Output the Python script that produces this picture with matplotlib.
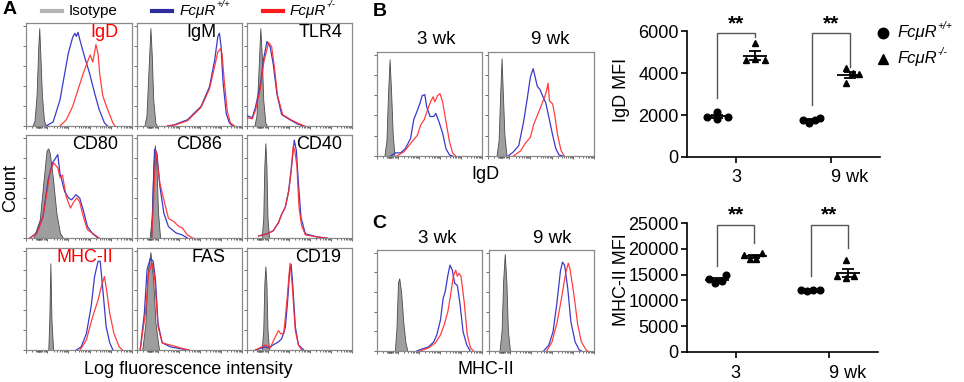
import numpy as np
import matplotlib.pyplot as plt
import matplotlib.transforms as mtransforms
from matplotlib.lines import Line2D

plt.rcParams['font.family'] = ['Liberation Sans', 'DejaVu Sans']

# ---------------- data ----------------
# flow histograms: (position along log axis in % of width, count in % of panel height)
igd_iso = [(6, 0), (8, 5), (10, 30), (11.5, 75), (12.5, 95), (13.5, 70), (15, 30), (17, 5), (19, 0)]
igd_wt = [(19, 0), (25.6, 4), (32, 25), (36.5, 51), (40, 71), (44, 86), (46, 90), (47.5, 87), (49, 91),
          (51, 83), (55, 68), (60, 51), (64.7, 32), (69, 16), (74, 3), (77, 0)]
igd_ko = [(32, 0), (38, 6), (44, 19), (49, 35), (54, 51), (57.5, 61), (60.6, 69), (63, 62), (66, 79),
          (68, 70), (69.5, 51), (72.5, 29), (77, 16), (82, 3), (84, 0)]

igm_iso = [(7, 0), (9, 10), (11, 55), (12.8, 95), (14, 70), (15.5, 25), (17.5, 3), (19, 0)]
igm_wt = [(29, 0), (35, 1), (48, 6), (61, 19), (69, 38), (74, 64), (77, 87), (78.5, 90), (80, 78),
          (82, 42), (85, 12), (88, 3), (91, 0)]
igm_ko = [(29, 0), (36, 1), (48, 5), (61, 18), (69, 36), (74, 58), (77, 72), (79.5, 75), (81, 70),
          (83, 45), (86, 14), (89, 3), (93, 0)]

tlr4_iso = [(7, 0), (9, 10), (11, 55), (12.7, 95), (14, 70), (15.5, 25), (17.5, 3), (19, 0)]
tlr4_wt = [(0, 10), (5, 8), (8, 18), (12.7, 40), (16, 66), (19, 82), (22, 77), (25, 60), (28.5, 31),
           (33, 11), (41, 6), (48, 2), (54, 0)]
tlr4_ko = [(0, 8), (5, 7), (8, 15), (12.7, 36), (16, 62), (20.6, 81), (23.5, 77), (26, 58), (29, 30),
           (34, 11), (42, 6), (50, 2), (55, 0)]

cd80_iso = [(7, 0), (13, 18), (16, 50), (19.4, 85), (21, 87), (22.5, 82), (25.6, 56), (28.7, 24),
            (32, 5), (35, 0)]
cd80_wt = [(3.7, 0), (10, 5), (16, 21), (21, 57), (25, 73), (27, 76), (30, 81), (32, 63), (36.5, 45),
           (40, 39), (43, 37), (47, 42), (50.6, 39), (54, 27), (58, 11), (63, 4), (68, 0)]
cd80_ko = [(3.7, 0), (10, 4), (16, 20), (22.5, 63), (26, 73), (30, 68), (32, 59), (34.4, 61), (38, 40),
           (42, 29), (45, 35), (48, 39), (50.6, 35), (54, 21), (58, 8), (65, 3), (69, 0)]

cd86_iso = [(12, 0), (14, 20), (15.5, 70), (17, 90), (18.5, 70), (20, 25), (22, 0)]
cd86_wt = [(14, 0), (16.7, 86), (19, 82), (21.8, 50), (25.6, 24), (30, 11), (37, 5), (43, 3), (48, 0)]
cd86_ko = [(14, 0), (18, 85), (21.8, 53), (27, 31), (30, 19), (35, 16), (40, 11), (43, 10), (48, 3), (53, 0)]

cd40_iso = [(14, 0), (15.5, 20), (16.5, 70), (17.5, 92), (18.5, 70), (19.5, 20), (21, 0)]
cd40_wt = [(11, 2), (19, 4), (25, 7), (30, 15), (33, 23), (36.5, 30), (39.7, 46), (42, 66), (44, 85),
           (45, 95), (47, 85), (49, 53), (51.4, 20), (55.6, 4), (67, 1), (76, 0)]
cd40_ko = [(11, 2), (19, 4), (25, 7), (30, 15), (33, 23), (36.5, 30), (39.7, 45), (42, 64), (44, 89),
           (45.5, 85), (47.5, 70), (49.5, 30), (52, 12), (55.6, 3), (67, 1), (76, 0)]

mhc_iso = [(21, 0), (22, 30), (23, 85), (24, 30), (25.6, 0)]
mhc_wt = [(47.5, 0), (52, 3), (57, 16), (61.5, 43), (64.7, 72), (68, 87), (70, 87), (72.5, 59),
          (75.6, 23), (79, 7), (82, 0)]
mhc_ko = [(51, 0), (57, 10), (63, 33), (68, 49), (71, 62), (74, 72), (76, 59), (79, 36), (83, 16),
          (88, 3), (91, 0)]

fas_iso = [(5, 0), (8, 26), (10, 75), (12.8, 96), (15.4, 69), (17.6, 26), (21, 0)]
fas_wt = [(3, 0), (7, 36), (9.6, 79), (12.8, 90), (15.4, 87), (17.6, 69), (20, 26), (24, 7), (32, 3),
          (43, 1), (48, 0)]
fas_ko = [(3, 0), (8, 36), (11, 75), (14.4, 85), (16.7, 72), (20, 23), (24, 7), (35, 4), (45, 1), (50, 0)]

cd19_iso = [(14, 0), (15.5, 20), (16.5, 65), (17.5, 82), (18.5, 65), (19.5, 20), (21, 0)]
cd19_wt = [(8, 0), (17.5, 3), (20.6, 2), (25, 5), (30, 8), (33, 11), (36.5, 22), (38.7, 48), (40.6, 77),
           (42, 84), (43.5, 65), (46, 23), (49, 5), (54, 0)]
cd19_ko = [(8, 0), (17.5, 5), (22, 2), (27, 13), (30, 19), (32, 16), (35, 16), (38, 48), (41, 85),
           (43, 65), (46, 19), (49, 5), (52, 0)]

igd3_iso = [(7, 0), (9, 15), (10.5, 60), (12, 93), (13.5, 60), (15, 20), (16.7, 0)]
igd3_wt = [(12.8, 0), (17.6, 3), (22.4, 3), (27, 7), (32, 17), (35, 35), (38.5, 44), (41, 51), (43, 58),
           (45.5, 59), (47.4, 47), (50.6, 38), (54, 38), (56, 41), (59, 33), (62.5, 22), (65.7, 7),
           (69, 1), (72, 0)]
igd3_ko = [(19, 0), (25.6, 4), (33.6, 14), (38.5, 20), (41.7, 30), (45, 35), (48.7, 46), (51, 52),
           (53.5, 57), (55, 52), (57.7, 58), (60, 60), (62.5, 52), (65.7, 33), (69, 14), (72, 3), (75, 0)]

igd9_iso = [(8, 0), (10, 15), (11.5, 60), (12.8, 94), (14, 60), (15.5, 20), (17.5, 0)]
igd9_wt = [(19, 0), (24, 4), (29, 10), (33.6, 33), (37, 55), (40, 76), (42.6, 84), (44, 78), (46.5, 67),
           (49, 64), (51, 59), (54.5, 51), (57.7, 36), (61, 20), (64, 7), (67, 1), (70.5, 0)]
igd9_ko = [(24, 0), (30.8, 5), (35, 12), (40, 18), (43, 30), (46.5, 39), (49.7, 47), (52, 53), (54.5, 60),
           (56.7, 70), (58, 53), (61, 50), (63, 39), (65.7, 20), (69, 5), (72, 0)]

mhc3_iso = [(17, 0), (18.5, 22), (20, 68), (21.2, 72), (23, 58), (25, 29), (27, 9), (29, 0)]
mhc3_wt = [(38, 0), (43, 2), (49, 4), (54, 9), (57, 16), (60.5, 31), (63, 52), (65, 59), (67.5, 75),
           (69.5, 85), (71.7, 80), (74, 67), (76.5, 65), (79, 47), (82, 19), (85.5, 6), (88.7, 0)]
mhc3_ko = [(41, 0), (49, 3), (55.6, 8), (60.5, 16), (64, 26), (67.5, 39), (70, 55), (72.7, 74), (75, 80),
           (76.5, 74), (78, 77), (80, 74), (83, 49), (86, 16), (89, 3), (92, 0)]

mhc9_iso = [(10, 0), (12, 20), (13.5, 70), (15, 96), (16.5, 70), (18, 20), (20, 0)]
mhc9_wt = [(52, 0), (57, 6), (61, 19), (64.5, 46), (68, 79), (70, 88), (72, 85), (75, 62), (78, 29),
           (82, 9), (86, 1), (88, 0)]
mhc9_ko = [(55, 0), (60, 9), (65, 29), (69, 52), (73, 77), (75.5, 87), (77, 82), (81, 55), (84.5, 26),
           (88, 9), (92.5, 1), (94, 0)]

# MFI per mouse
ages = ['3', '9 wk']
igd_mfi_wt = [[1920, 2150, 1800, 1890], [1760, 1620, 1760, 1840]]
igd_mfi_ko = [[5450, 4600, 4650, 4620], [4220, 3980, 3960, 3540]]
mhc_mfi_wt = [[14150, 13400, 13700, 14950], [11950, 11750, 11950, 12100]]
mhc_mfi_ko = [[18850, 18000, 18050, 19200], [17750, 14650, 14350, 14650]]

# ---------------- style ----------------
W, H = 964, 382
BLUE = '#3a3ac8'
RED = '#ff2a2a'
ISO_FACE = '#9e9e9e'
ISO_EDGE = '#4a4a4a'

fig = plt.figure(figsize=(W / 100, H / 100), dpi=100)
renderer = fig.canvas.get_renderer()


def add_ax(x0, y0, x1, y1):
    return fig.add_axes([x0 / W, 1 - y1 / H, (x1 - x0) / W, (y1 - y0) / H])


def ftext(x, y, s, **kw):
    return fig.text(x / W, 1 - y / H, s, **kw)


def geno_text(x, y, sup, size):
    # italic FcμR with a small raised genotype
    t = ftext(x, y, 'FcμR', fontsize=size, style='italic', va='center')
    bb = t.get_window_extent(renderer)
    fig.text((bb.x1 + 0.5) / W, (1 - y / H) + size * 0.42 / H * 1.389, sup,
             fontsize=size * 0.62, style='italic', va='center')


def hist_panel(ax, iso, wt, ko, label=None, lab_x=0.7, lab_col='black'):
    ix, iy = np.array(iso).T
    ax.fill_between(ix, iy, 0, facecolor=ISO_FACE, edgecolor=ISO_EDGE, lw=0.6, zorder=2)
    bx, by = np.array(wt).T
    rx, ry = np.array(ko).T
    ax.plot(bx, by, color=BLUE, lw=0.9, zorder=3)
    ax.plot(rx, ry, color=RED, lw=0.9, alpha=0.9, zorder=4)
    ax.set_xlim(0, 100)
    ax.set_ylim(0, 100)
    for s in ax.spines.values():
        s.set_color('#8a8a8a')
        s.set_linewidth(0.9)
    ax.set_yticks(np.arange(0, 100, 19.5))
    major = np.arange(0, 101, 20)
    minor = [d + 20 * np.log10(m) for d in major[:-1] for m in range(2, 10)]
    minor += list(np.arange(10.5, 14, 0.5))
    ax.set_xticks(major)
    ax.set_xticks(minor, minor=True)
    ax.tick_params(which='both', direction='out', labelbottom=False, labelleft=False,
                   color='#555555', width=0.6)
    ax.tick_params(which='major', length=2.5)
    ax.tick_params(which='minor', length=1.5)
    if label:
        ax.text(lab_x, 0.905, label, transform=ax.transAxes, ha='center', va='center',
                fontsize=13, color=lab_col)


# ---------------- panel A ----------------
cols = [(26, 132), (137, 242), (247, 352)]
rows = [(23, 126), (135, 238), (248, 350)]
grid = [
    [(igd_iso, igd_wt, igd_ko, 'IgD', 0.74, 'red'),
     (igm_iso, igm_wt, igm_ko, 'IgM', 0.61, 'black'),
     (tlr4_iso, tlr4_wt, tlr4_ko, 'TLR4', 0.70, 'black')],
    [(cd80_iso, cd80_wt, cd80_ko, 'CD80', 0.65, 'black'),
     (cd86_iso, cd86_wt, cd86_ko, 'CD86', 0.59, 'black'),
     (cd40_iso, cd40_wt, cd40_ko, 'CD40', 0.69, 'black')],
    [(mhc_iso, mhc_wt, mhc_ko, 'MHC-II', 0.56, 'red'),
     (fas_iso, fas_wt, fas_ko, 'FAS', 0.68, 'black'),
     (cd19_iso, cd19_wt, cd19_ko, 'CD19', 0.68, 'black')],
]
for r, (y0, y1) in enumerate(rows):
    for c, (x0, x1) in enumerate(cols):
        iso, wt, ko, lab, lx, lc = grid[r][c]
        hist_panel(add_ax(x0, y0, x1, y1), iso, wt, ko, lab, lx, lc)

ftext(3, 10, 'A', fontsize=14, fontweight='bold', va='center')
ftext(11, 188, 'Count', fontsize=13, rotation=90, ha='center', va='center')
ftext(188, 370, 'Log fluorescence intensity', fontsize=13, ha='center', va='center')

# top legend
for lx, lcol in [(42, '#b4b4b4'), (152, '#2c2c9c'), (263, '#ff1a1a')]:
    fig.add_artist(Line2D([lx / W, (lx + 20) / W], [1 - 11 / H, 1 - 11 / H], color=lcol, lw=3))
ftext(69, 11, 'Isotype', fontsize=11, va='center')
geno_text(180, 11, '+/+', 11)
geno_text(290, 11, '-/-', 11)

# ---------------- panel B / C histograms ----------------
hist_panel(add_ax(377, 52, 482, 156), igd3_iso, igd3_wt, igd3_ko)
hist_panel(add_ax(488, 52, 594, 156), igd9_iso, igd9_wt, igd9_ko)
hist_panel(add_ax(377, 250, 482, 351), mhc3_iso, mhc3_wt, mhc3_ko)
hist_panel(add_ax(489, 250, 594, 351), mhc9_iso, mhc9_wt, mhc9_ko)

ftext(373, 11, 'B', fontsize=14, fontweight='bold', va='center')
ftext(372, 224, 'C', fontsize=14, fontweight='bold', va='center')
for x, y, t in [(436, 40, '3 wk'), (550, 40, '9 wk'), (437, 238, '3 wk'), (552, 238, '9 wk')]:
    ftext(x, y, t, fontsize=13.5, ha='center', va='center')
ftext(485, 175, 'IgD', fontsize=13, ha='center', va='center')
ftext(486, 370, 'MHC-II', fontsize=13, ha='center', va='center')


# ---------------- MFI scatter ----------------
def mfi_panel(ax, wt_groups, ko_groups, jit_wt, jit_ko, ymax, step, br_legs, br_top):
    for g in range(len(ages)):
        for vals, off, mk, jit in [(wt_groups[g], -0.2, 'o', jit_wt[g]), (ko_groups[g], 0.2, '^', jit_ko[g])]:
            vals = np.array(vals)
            cx = g + off
            ax.plot(cx + np.array(jit), vals, ls='none', marker=mk, color='black', ms=4.8,
                    clip_on=False, zorder=3)
            m = vals.mean()
            sem = vals.std(ddof=1) / np.sqrt(len(vals))
            ax.hlines(m, cx - 0.13, cx + 0.13, color='black', lw=1.3, zorder=4)
            ax.vlines(cx, m - sem, m + sem, color='black', lw=1.3, zorder=4)
            ax.hlines([m - sem, m + sem], cx - 0.065, cx + 0.065, color='black', lw=1.3, zorder=4)
        yl, yr = br_legs[g]
        ax.plot([g - 0.2, g - 0.2, g + 0.2, g + 0.2], [yl, br_top, br_top, yr], color='#555555',
                lw=1.0, clip_on=False)
        ax.text(g, br_top, '**', ha='center', va='bottom', fontsize=15, fontweight='bold',
                clip_on=False)
    ax.set_xlim(-0.52, 1.52)
    ax.set_ylim(0, ymax)
    ax.set_yticks(np.arange(0, ymax + 1, step))
    ax.set_xticks(range(len(ages)))
    ax.set_xticklabels(ages)
    lab9 = ax.get_xticklabels()[1]
    lab9.set_horizontalalignment('left')
    lab9.set_transform(lab9.get_transform() + mtransforms.ScaledTranslation(-0.045, 0, fig.dpi_scale_trans))
    for s in ['top', 'right']:
        ax.spines[s].set_visible(False)
    for s in ['left', 'bottom']:
        ax.spines[s].set_linewidth(1.2)
    ax.tick_params(direction='out', length=4, width=1.2, labelsize=13, pad=2)
    ax.tick_params(axis='x', pad=5)


ax_b = add_ax(687, 31, 880, 157)
mfi_panel(ax_b, igd_mfi_wt, igd_mfi_ko,
          [[-0.11, 0, 0, 0.11], [-0.09, -0.03, 0.03, 0.09]],
          [[0, -0.1, 0, 0.1], [-0.04, 0.03, 0.1, -0.04]],
          6000, 2000, [(2800, 5730), (2480, 4300)], 5900)
ax_c = add_ax(687, 223, 878, 352)
mfi_panel(ax_c, mhc_mfi_wt, mhc_mfi_ko,
          [[-0.09, -0.02, 0.05, 0.1], [-0.1, -0.04, 0.03, 0.1]],
          [[-0.11, -0.05, 0.02, 0.08], [-0.02, -0.12, -0.02, 0.06]],
          25000, 5000, [(16600, 21100), (14650, 20150)], 24700)

ftext(621, 90, 'IgD MFI', fontsize=13, rotation=90, ha='center', va='center')
ftext(621, 280, 'MHC-II MFI', fontsize=13, rotation=90, ha='center', va='center')

# scatter legend
for ly, mk, sup in [(33, 'o', '+/+'), (59, '^', '-/-')]:
    fig.add_artist(Line2D([883 / W], [1 - ly / H], ls='none', marker=mk, color='black', ms=7.5))
    geno_text(897, ly, sup, 12)

fig.savefig('out.png', dpi=100)
